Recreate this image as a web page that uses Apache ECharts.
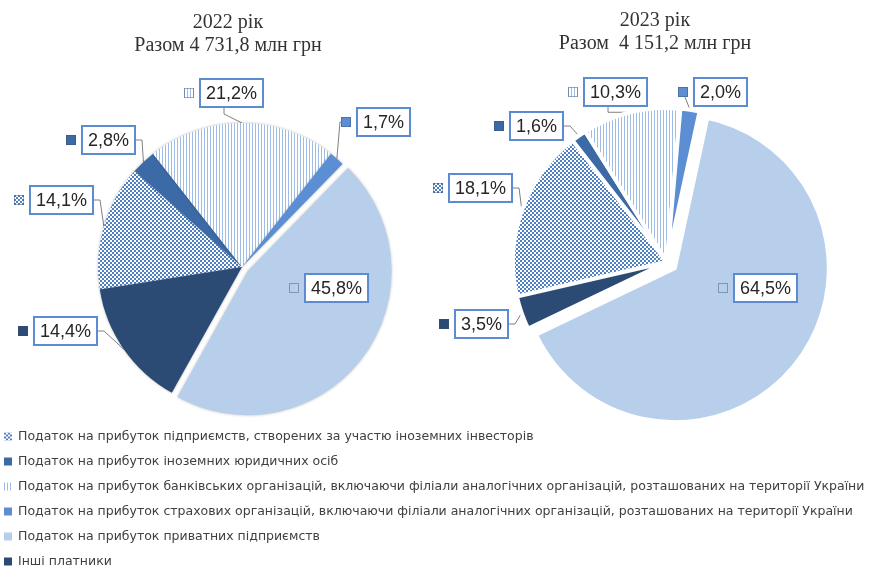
<!DOCTYPE html>
<html>
<head>
<meta charset="utf-8">
<script src="https://cdn.jsdelivr.net/npm/echarts@6/dist/echarts.min.js"></script>
<style>
  html, body { margin: 0; padding: 0; background: #fff; }
  #chart { width: 870px; height: 570px; }
</style>
</head>
<body>
<div id="chart"></div>
<script>
const categories = [
  'Податок на прибуток підприємств, створених за участю іноземних інвесторів',
  'Податок на прибуток іноземних юридичних осіб',
  'Податок на прибуток банківських організацій, включаючи філіали аналогічних організацій, розташованих на території України',
  'Податок на прибуток страхових організацій, включаючи філіали аналогічних організацій, розташованих на території України',
  'Податок на прибуток приватних підприємств',
  'Інші платники',
]
const share2022 = [14.1, 2.8, 21.2, 1.7, 45.8, 14.4]
const share2023 = [18.1, 1.6, 10.3, 2.0, 64.5, 3.5]
const title2022 = ['2022 рік', 'Разом 4 731,8 млн грн']
const title2023 = ['2023 рік', 'Разом  4 151,2 млн грн']
const explodedIndex = 4 // приватні підприємства винесені з кола

// де стоять підписи (центр підпису разом зі значком), як в оригіналі
const labelSpots2022 = [[53, 200], [100, 140], [223, 93], [375, 122], [328, 288], [57, 331]]
const labelSpots2023 = [[472, 188], [528, 126], [607, 92], [712, 92], [757, 288], [473, 324]]

// маленькі плитки для візерунків
function tile(size, draw) {
  const c = document.createElement('canvas')
  c.width = size
  c.height = size
  draw(c.getContext('2d'))
  return c
}

const checkTile = tile(4, (ctx) => {
  ctx.fillStyle = '#ffffff'
  ctx.fillRect(0, 0, 4, 4)
  ctx.fillStyle = '#4f80c2'
  ctx.fillRect(0, 0, 2, 2)
  ctx.fillRect(2, 2, 2, 2)
})
const stripeTile = tile(3, (ctx) => {
  ctx.fillStyle = '#ffffff'
  ctx.fillRect(0, 0, 3, 3)
  ctx.fillStyle = '#9dbde6'
  ctx.fillRect(0, 0, 1, 3)
})

const fills = [
  { image: checkTile, repeat: 'repeat' },
  '#3c6aa7',
  { image: stripeTile, repeat: 'repeat' },
  '#5b8ed2',
  '#b7cfeb',
  '#2b4b74',
]

// значок-ключ біля підпису
function keyCanvas(fill) {
  return tile(10, (ctx) => {
    ctx.fillStyle = typeof fill === 'string' ? fill : ctx.createPattern(fill.image, 'repeat')
    ctx.fillRect(0, 0, 10, 10)
    ctx.strokeStyle = 'rgba(60,80,110,0.45)'
    ctx.lineWidth = 1
    ctx.strokeRect(0.5, 0.5, 9, 9)
  })
}

const rich = {
  v: {
    fontFamily: 'Liberation Sans',
    fontSize: 18,
    color: '#262626',
    backgroundColor: '#fff',
    borderColor: '#5b8bd0',
    borderWidth: 2,
    padding: [5, 5, 3, 5],
  },
  s: { width: 7 },
}
fills.forEach((f, i) => {
  rich['k' + i] = { width: 10, height: 10, backgroundColor: { image: keyCanvas(f) } }
})

const fmt = (v) => v.toFixed(1).replace('.', ',') + '%'
const labelText = (p) => `{k${p.dataIndex}|}{s|}{v|${fmt(p.value)}}`
const placeAt = (spots) => (p) => ({
  x: spots[p.dataIndex][0],
  y: spots[p.dataIndex][1],
  align: 'center',
  verticalAlign: 'middle',
})

function pieSeries(values, center, radius, startAngle, offset, gap, shadow, spots) {
  return {
    type: 'pie',
    center: center,
    radius: radius,
    startAngle: startAngle,
    clockwise: true,
    selectedMode: 'single',
    selectedOffset: offset,
    avoidLabelOverlap: false,
    emphasis: { disabled: true },
    itemStyle: {
      borderColor: '#fff',
      borderWidth: gap,
      shadowBlur: shadow,
      shadowColor: 'rgba(0,0,0,0.25)',
    },
    label: { formatter: labelText, rich: rich },
    labelLine: { length: 14, length2: 6, lineStyle: { color: '#808080', width: 1 } },
    labelLayout: placeAt(spots),
    data: values.map((v, i) => ({
      name: categories[i],
      value: v,
      selected: i === explodedIndex,
      itemStyle: { color: fills[i] },
      label: i === explodedIndex ? { show: false } : undefined,
    })),
  }
}

// прозорий дубль кола: лише підпис винесеного сектора, що стоїть усередині нього
function innerLabelSeries(values, center, radius, startAngle, spots) {
  return {
    type: 'pie',
    center: center,
    radius: radius,
    startAngle: startAngle,
    clockwise: true,
    silent: true,
    avoidLabelOverlap: false,
    itemStyle: { color: 'rgba(0,0,0,0)' },
    label: { formatter: labelText, rich: rich },
    labelLine: { show: false },
    labelLayout: placeAt(spots),
    data: values.map((v, i) => ({
      name: categories[i],
      value: v,
      label: { show: i === explodedIndex },
    })),
  }
}

const titleStyle = { fontFamily: 'Liberation Serif', fontSize: 20, fontWeight: 'normal', color: '#333', lineHeight: 23 }

const chart = echarts.init(document.getElementById('chart'))
chart.setOption({
  animation: false,
  title: [
    { text: title2022.join('\n'), left: 223, top: 6, textAlign: 'center', textStyle: titleStyle },
    { text: title2023.join('\n'), left: 650, top: 4, textAlign: 'center', textStyle: titleStyle },
  ],
  legend: {
    orient: 'vertical',
    left: 4,
    top: 430,
    padding: 0,
    icon: 'rect',
    itemWidth: 8,
    itemHeight: 8,
    itemGap: 12,
    selectedMode: false,
    textStyle: { fontFamily: 'DejaVu Sans', fontSize: 12.5, color: '#404040', padding: [0, 0, 0, 1] },
    data: categories,
  },
  series: [
    pieSeries(share2022, [242, 267], 144, 189, 7, 0, 3, labelSpots2022),
    pieSeries(share2023, [667, 262], 154, 193, 10, 4, 0, labelSpots2023),
    innerLabelSeries(share2022, [242, 267], 144, 189, labelSpots2022),
    innerLabelSeries(share2023, [667, 262], 154, 193, labelSpots2023),
  ],
})
</script>
</body>
</html>
